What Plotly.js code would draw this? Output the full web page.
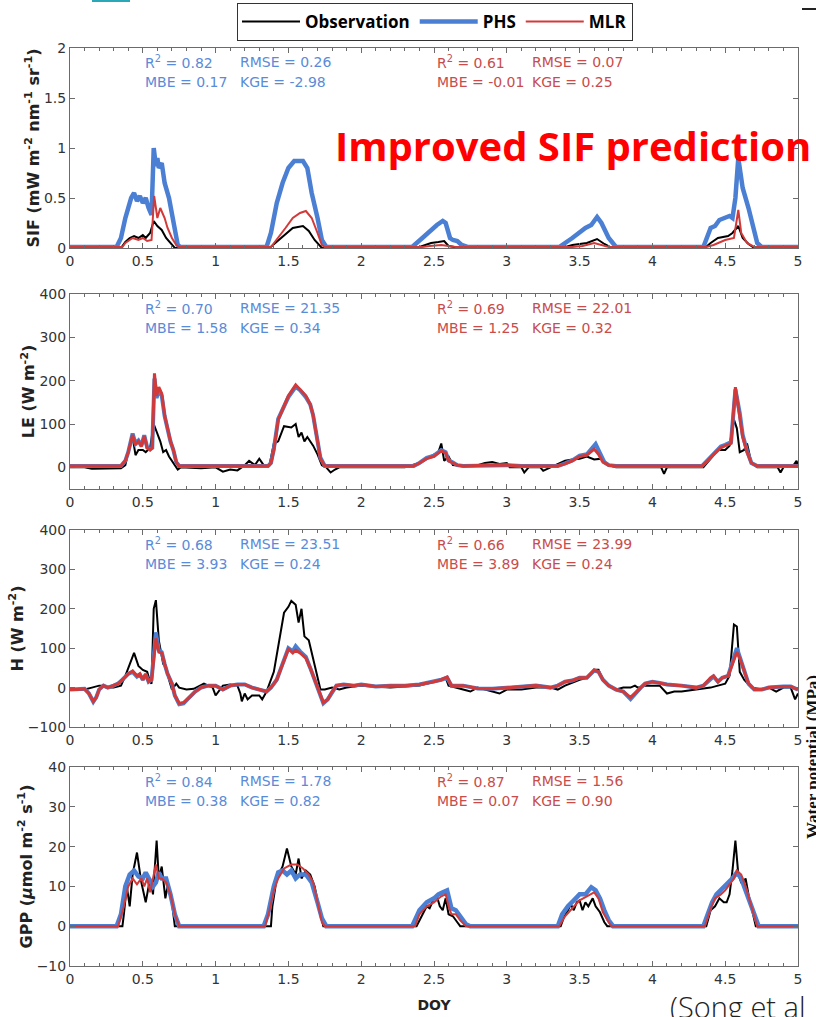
<!DOCTYPE html>
<html>
<head>
<meta charset="utf-8">
<script src="https://cdn.plot.ly/plotly-3.0.1.min.js"></script>
<style>
  html, body { margin: 0; padding: 0; background: #fff; overflow: hidden; }
  #chart { width: 816px; height: 1017px; }
</style>
</head>
<body>
<div id="chart"></div>
<script>
// ---- DOY axis ----
const doyTicks = [0, 0.5, 1, 1.5, 2, 2.5, 3, 3.5, 4, 4.5, 5];
const doyTickText = ['0', '0.5', '1', '1.5', '2', '2.5', '3', '3.5', '4', '4.5', '5'];

// ---- SIF (mW m-2 nm-1 sr-1): [DOY, value] ----
const sifObs = [[0,0],[0.35,0],[0.38,0.06],[0.41,0.1],[0.44,0.12],[0.47,0.1],[0.5,0.13],[0.52,0.1],[0.55,0.15],[0.575,0.27],[0.6,0.22],[0.63,0.18],[0.66,0.1],[0.69,0.05],[0.72,0],
  [1.37,0],[1.41,0.05],[1.47,0.12],[1.53,0.2],[1.6,0.22],[1.64,0.17],[1.68,0.08],[1.71,0.03],[1.73,0],
  [2.38,0],[2.42,0.02],[2.48,0.05],[2.53,0.06],[2.57,0.07],[2.6,0.02],[2.68,0],
  [3.38,0],[3.45,0.03],[3.55,0.05],[3.62,0.09],[3.67,0.04],[3.72,0],
  [4.36,0],[4.4,0.05],[4.45,0.1],[4.52,0.12],[4.55,0.15],[4.59,0.22],[4.62,0.1],[4.66,0.04],[4.7,0],[5,0]];
const sifPhs = [[0,0.01],[0.32,0.01],[0.35,0.1],[0.38,0.3],[0.42,0.5],[0.44,0.55],[0.46,0.47],[0.48,0.52],[0.5,0.45],[0.52,0.5],[0.54,0.4],[0.56,0.33],[0.575,1.0],[0.59,0.82],[0.6,0.9],[0.61,0.8],[0.63,0.85],[0.65,0.65],[0.68,0.5],[0.7,0.35],[0.72,0.15],[0.74,0.03],[0.76,0.01],
  [1.35,0.01],[1.38,0.15],[1.42,0.45],[1.46,0.65],[1.5,0.8],[1.54,0.87],[1.6,0.87],[1.63,0.8],[1.66,0.55],[1.7,0.3],[1.73,0.08],[1.76,0.01],
  [2.35,0.01],[2.42,0.1],[2.49,0.2],[2.52,0.23],[2.56,0.27],[2.58,0.25],[2.61,0.1],[2.63,0.08],[2.66,0.07],[2.69,0.03],[2.73,0.01],
  [3.36,0.01],[3.45,0.1],[3.54,0.2],[3.58,0.23],[3.62,0.31],[3.65,0.25],[3.7,0.1],[3.75,0.01],
  [4.35,0.01],[4.4,0.2],[4.43,0.22],[4.46,0.28],[4.5,0.3],[4.53,0.32],[4.55,0.3],[4.57,0.5],[4.59,0.9],[4.62,0.6],[4.66,0.4],[4.69,0.2],[4.72,0.05],[4.75,0.01],[5,0.01]];
const sifMlr = [[0,0.01],[0.36,0.01],[0.38,0.05],[0.43,0.1],[0.47,0.08],[0.5,0.1],[0.53,0.07],[0.56,0.08],[0.578,0.52],[0.6,0.3],[0.62,0.4],[0.65,0.3],[0.67,0.2],[0.7,0.1],[0.73,0.03],[0.75,0.01],
  [1.38,0.01],[1.43,0.1],[1.48,0.2],[1.53,0.3],[1.58,0.35],[1.62,0.37],[1.66,0.3],[1.7,0.15],[1.73,0.03],[1.75,0.01],
  [2.42,0.01],[2.47,0.02],[2.55,0.03],[2.6,0.02],[2.65,0.01],
  [3.45,0.01],[3.52,0.02],[3.6,0.05],[3.65,0.03],[3.7,0.01],
  [4.37,0.01],[4.42,0.03],[4.5,0.08],[4.56,0.1],[4.59,0.38],[4.61,0.15],[4.65,0.05],[4.7,0.01],[5,0.01]];

// ---- LE (W m-2) ----
const leObs = [[0,0],[0.1,0],[0.15,-3],[0.3,-3],[0.35,-2],[0.38,5],[0.4,35],[0.43,70],[0.45,28],[0.47,40],[0.5,40],[0.52,35],[0.55,45],[0.575,100],[0.6,80],[0.62,60],[0.64,35],[0.66,40],[0.68,25],[0.7,15],[0.72,5],[0.74,-5],[0.76,0],[0.9,-2],[1.0,0],[1.05,-10],[1.1,-5],[1.15,-7],[1.2,5],[1.23,15],[1.27,5],[1.3,20],[1.33,5],[1.37,5],
  [1.4,55],[1.43,60],[1.47,95],[1.52,92],[1.55,100],[1.57,70],[1.59,80],[1.61,60],[1.63,70],[1.67,50],[1.7,30],[1.73,5],[1.76,0],[1.79,-12],[1.82,-5],[1.85,0],
  [2.3,0],[2.4,10],[2.45,20],[2.5,30],[2.53,35],[2.55,55],[2.57,15],[2.6,25],[2.63,5],[2.7,3],[2.8,5],[2.85,10],[2.9,12],[2.95,8],[3.0,10],[3.02,0],[3.1,0],[3.12,-12],[3.15,0],[3.23,0],[3.25,-8],[3.3,0],
  [3.4,15],[3.45,18],[3.5,20],[3.55,25],[3.6,18],[3.65,20],[3.7,5],[3.75,0],[4.06,0],[4.08,-15],[4.1,0],
  [4.35,0],[4.4,20],[4.45,40],[4.5,40],[4.53,50],[4.56,110],[4.58,90],[4.6,35],[4.63,40],[4.65,55],[4.68,10],[4.72,0],[4.86,0],[4.88,-12],[4.9,0],[4.97,5],[4.99,15],[5,5]];
const lePhs = [[0,3],[0.35,3],[0.38,15],[0.4,35],[0.43,78],[0.45,55],[0.47,62],[0.49,50],[0.51,74],[0.53,46],[0.55,42],[0.565,45],[0.58,205],[0.595,160],[0.61,180],[0.63,165],[0.65,118],[0.67,88],[0.69,60],[0.71,40],[0.73,12],[0.75,3],
  [1.36,3],[1.38,10],[1.4,42],[1.43,112],[1.47,140],[1.5,162],[1.55,186],[1.58,178],[1.62,162],[1.65,145],[1.67,120],[1.7,62],[1.72,22],[1.75,3],
  [2.36,3],[2.4,10],[2.45,22],[2.5,27],[2.55,40],[2.58,35],[2.6,16],[2.63,11],[2.66,5],[2.7,3],[2.85,5],[3.0,5],[3.1,3],
  [3.35,3],[3.4,9],[3.45,16],[3.5,27],[3.55,30],[3.61,54],[3.64,32],[3.67,12],[3.7,5],[3.75,3],
  [4.34,3],[4.38,17],[4.42,33],[4.47,48],[4.5,52],[4.54,58],[4.57,180],[4.6,125],[4.62,75],[4.65,38],[4.68,10],[4.72,3],[5,3]];
const leMlr = [[0,3],[0.35,3],[0.38,15],[0.4,35],[0.43,75],[0.45,52],[0.47,60],[0.49,48],[0.51,72],[0.53,45],[0.55,40],[0.565,45],[0.58,217],[0.595,165],[0.61,185],[0.63,170],[0.65,120],[0.67,90],[0.69,60],[0.71,40],[0.73,12],[0.75,3],
  [1.36,3],[1.38,10],[1.4,40],[1.43,110],[1.47,140],[1.5,165],[1.55,190],[1.58,180],[1.62,165],[1.65,145],[1.67,120],[1.7,60],[1.72,20],[1.75,3],
  [2.36,3],[2.4,10],[2.45,20],[2.5,25],[2.55,38],[2.58,33],[2.6,15],[2.63,10],[2.66,5],[2.7,3],[2.85,5],[3.0,5],[3.1,3],
  [3.35,3],[3.4,8],[3.45,15],[3.5,25],[3.55,28],[3.6,42],[3.63,30],[3.66,12],[3.7,5],[3.75,3],
  [4.34,3],[4.38,15],[4.42,30],[4.47,45],[4.5,50],[4.54,55],[4.57,185],[4.6,120],[4.62,70],[4.65,35],[4.68,10],[4.72,3],[5,3]];

// ---- H (W m-2) ----
const hObs = [[0,-5],[0.1,-5],[0.15,0],[0.2,5],[0.22,5],[0.25,0],[0.3,0],[0.35,5],[0.38,30],[0.41,60],[0.44,88],[0.47,55],[0.5,45],[0.53,40],[0.55,15],[0.56,10],[0.575,200],[0.59,222],[0.61,120],[0.64,60],[0.66,50],[0.68,20],[0.7,-5],[0.72,5],[0.73,10],[0.75,0],[0.8,-5],[0.85,-3],[0.9,5],[0.92,10],[0.95,5],[0.98,0],[1.0,-20],[1.05,5],[1.1,8],[1.15,5],[1.17,-15],[1.18,-35],[1.2,-15],[1.22,-30],[1.25,-20],[1.3,-20],[1.32,-30],[1.35,-10],
  [1.4,40],[1.43,100],[1.47,190],[1.5,205],[1.52,220],[1.55,210],[1.57,165],[1.59,200],[1.61,130],[1.64,120],[1.66,90],[1.69,40],[1.72,-5],[1.75,-5],[1.8,0],[1.85,-5],[1.9,0],[2.0,5],[2.2,0],
  [2.4,5],[2.5,15],[2.58,25],[2.6,5],[2.7,-5],[2.75,-10],[2.8,0],[2.9,-10],[2.95,-15],[3.0,-5],[3.1,-5],[3.2,0],[3.3,0],[3.35,-5],[3.4,5],[3.5,20],[3.55,25],[3.6,45],[3.63,45],[3.66,20],[3.7,5],[3.75,-5],[3.8,0],[3.85,0],[3.88,5],[3.9,0],[3.95,5],[4.05,5],[4.1,-15],[4.15,-10],[4.2,-10],[4.3,-5],[4.4,0],
  [4.45,5],[4.5,10],[4.53,30],[4.56,160],[4.58,155],[4.6,40],[4.63,20],[4.68,0],[4.75,-5],[4.8,0],[4.85,-10],[4.9,0],[4.95,0],[4.98,-30],[5,-15]];
const hPhs = [[0,-5],[0.05,-5],[0.1,-3],[0.13,-15],[0.16,-36],[0.18,-25],[0.2,-5],[0.23,5],[0.26,0],[0.3,5],[0.33,10],[0.36,20],[0.4,35],[0.43,40],[0.46,28],[0.48,33],[0.5,20],[0.52,33],[0.54,15],[0.56,20],[0.575,85],[0.59,140],[0.61,95],[0.63,90],[0.65,60],[0.67,35],[0.7,10],[0.72,-20],[0.75,-42],[0.78,-40],[0.82,-25],[0.86,-10],[0.9,0],[0.95,5],[1.0,5],[1.05,-5],[1.1,5],[1.15,8],[1.2,8],[1.25,0],[1.3,-5],[1.35,-10],
  [1.38,0],[1.42,20],[1.45,50],[1.48,82],[1.5,100],[1.53,92],[1.55,105],[1.58,92],[1.62,78],[1.65,50],[1.68,20],[1.72,-20],[1.74,-40],[1.77,-30],[1.8,-10],[1.83,5],[1.88,8],[1.95,5],[2.0,8],[2.1,3],[2.2,5],[2.3,5],
  [2.4,8],[2.5,15],[2.55,20],[2.59,25],[2.62,5],[2.7,5],[2.8,-2],[2.9,-3],[3.0,0],[3.1,2],[3.2,5],[3.3,0],[3.35,5],[3.4,15],[3.45,18],[3.5,25],[3.55,25],[3.6,43],[3.63,40],[3.66,20],[3.7,5],[3.75,-5],[3.8,-10],[3.85,-29],[3.88,-15],[3.92,0],[3.95,10],[4.0,15],[4.05,12],[4.1,8],[4.2,5],[4.3,0],
  [4.35,5],[4.4,22],[4.42,28],[4.45,15],[4.48,25],[4.52,30],[4.55,62],[4.58,100],[4.6,78],[4.63,40],[4.66,10],[4.7,-5],[4.75,-5],[4.8,0],[4.85,2],[4.9,3],[4.95,3],[5,-5]];
const hMlr = [[0,-5],[0.05,-5],[0.1,-3],[0.13,-15],[0.16,-35],[0.18,-25],[0.2,-5],[0.23,5],[0.26,0],[0.3,5],[0.33,10],[0.36,20],[0.4,35],[0.43,42],[0.46,30],[0.48,35],[0.5,20],[0.52,35],[0.54,15],[0.56,20],[0.575,80],[0.59,125],[0.61,90],[0.63,88],[0.65,60],[0.67,35],[0.7,10],[0.72,-20],[0.75,-40],[0.78,-38],[0.82,-25],[0.86,-10],[0.9,0],[0.95,5],[1.0,5],[1.05,-5],[1.1,5],[1.15,8],[1.2,8],[1.25,0],[1.3,-5],[1.35,-10],
  [1.38,0],[1.42,20],[1.45,50],[1.48,80],[1.5,98],[1.53,88],[1.55,95],[1.58,88],[1.62,75],[1.65,50],[1.68,20],[1.72,-20],[1.74,-38],[1.77,-30],[1.8,-10],[1.83,5],[1.88,8],[1.95,5],[2.0,8],[2.1,3],[2.2,5],[2.3,5],
  [2.4,8],[2.5,15],[2.55,20],[2.59,27],[2.62,5],[2.7,5],[2.8,-2],[2.9,-3],[3.0,0],[3.1,2],[3.2,5],[3.3,0],[3.35,5],[3.4,15],[3.45,18],[3.5,25],[3.55,25],[3.6,45],[3.63,40],[3.66,20],[3.7,5],[3.75,-5],[3.8,-10],[3.85,-25],[3.88,-15],[3.92,0],[3.95,10],[4.0,15],[4.05,12],[4.1,8],[4.2,5],[4.3,0],
  [4.35,5],[4.4,25],[4.42,30],[4.45,15],[4.48,25],[4.52,30],[4.55,60],[4.58,90],[4.6,75],[4.63,40],[4.66,10],[4.7,-5],[4.75,-5],[4.8,0],[4.85,2],[4.9,3],[4.95,3],[5,-5]];

// ---- GPP (umol m-2 s-1) ----
const gppObs = [[0,0],[0.36,0],[0.37,3],[0.39,10],[0.41,5],[0.43,13],[0.46,18.5],[0.49,11],[0.52,6],[0.55,12],[0.57,8],[0.595,21.5],[0.61,12],[0.63,15],[0.655,7],[0.67,10],[0.7,6],[0.72,0],
  [1.38,0],[1.39,5],[1.42,12],[1.46,15],[1.49,19.5],[1.52,15],[1.55,13],[1.57,17],[1.59,12],[1.62,14],[1.65,13],[1.68,10],[1.72,3],[1.74,0],
  [2.38,0],[2.4,1.5],[2.42,3],[2.45,5],[2.47,4.5],[2.5,7],[2.52,7.5],[2.54,5],[2.56,4],[2.58,7],[2.6,3],[2.63,2.5],[2.66,1],[2.68,0],
  [3.37,0],[3.39,2],[3.42,4],[3.44,5.5],[3.46,4],[3.48,6],[3.5,6.5],[3.52,4],[3.54,6],[3.56,5],[3.59,7],[3.61,5],[3.64,3.5],[3.67,1],[3.69,0],
  [4.37,0],[4.4,4],[4.43,5],[4.46,7],[4.49,6],[4.51,6],[4.53,8],[4.55,14],[4.57,21.5],[4.59,13],[4.61,11],[4.63,11],[4.64,12],[4.66,8],[4.69,3],[4.71,0],[5,0]];
const gppPhs = [[0,0],[0.32,0],[0.35,3],[0.38,10],[0.41,13],[0.44,14],[0.47,12.5],[0.5,12],[0.52,13.5],[0.54,12],[0.57,10],[0.59,11],[0.61,13.5],[0.63,12],[0.66,12],[0.69,8],[0.72,3],[0.75,0],
  [1.33,0],[1.36,3],[1.4,10],[1.43,13.5],[1.46,14],[1.49,13],[1.52,14],[1.55,12],[1.58,13],[1.62,13],[1.66,11],[1.7,6],[1.73,2],[1.76,0],
  [2.35,0],[2.4,4],[2.45,6],[2.5,7],[2.53,8],[2.56,8.5],[2.59,9],[2.62,4.5],[2.65,4],[2.68,2.5],[2.72,0.5],[2.75,0],
  [3.35,0],[3.38,3],[3.42,5],[3.46,6.5],[3.5,8],[3.54,8],[3.58,9.8],[3.61,9],[3.64,7],[3.67,4],[3.7,1.5],[3.73,0],
  [4.35,0],[4.38,3],[4.41,6],[4.44,8],[4.47,9],[4.5,10],[4.52,11],[4.55,12],[4.58,13.5],[4.61,12],[4.64,9],[4.67,6],[4.7,2.5],[4.73,0],[5,0]];
const gppMlr = [[0,0],[0.33,0],[0.37,5],[0.4,10],[0.43,12],[0.46,10.5],[0.49,12],[0.51,10],[0.53,12],[0.55,8.5],[0.57,12],[0.59,15.5],[0.61,12],[0.63,12],[0.66,11],[0.69,8],[0.72,3],[0.75,0],
  [1.34,0],[1.37,4],[1.4,9],[1.43,12],[1.47,14.5],[1.52,15.5],[1.56,15.5],[1.6,14.5],[1.64,13],[1.67,11],[1.7,6],[1.73,1],[1.75,0],
  [2.37,0],[2.4,3],[2.45,5],[2.5,6],[2.55,7.5],[2.58,8],[2.6,5],[2.62,3],[2.65,3],[2.68,1.5],[2.72,0],
  [3.36,0],[3.4,2.5],[3.45,4.5],[3.5,6.5],[3.55,7.5],[3.6,8.5],[3.63,7],[3.66,3.5],[3.7,1],[3.72,0],
  [4.36,0],[4.4,4.5],[4.43,7],[4.47,8],[4.5,9],[4.53,10.5],[4.56,12],[4.58,14],[4.61,13],[4.64,10],[4.67,6],[4.7,2],[4.72,0],[5,0]];

// ---- goodness-of-fit statistics: [R2, RMSE, MBE, KGE] ----
const sifStatsPhs = ['0.82', '0.26', '0.17', '-2.98'];
const sifStatsMlr = ['0.61', '0.07', '-0.01', '0.25'];
const leStatsPhs = ['0.70', '21.35', '1.58', '0.34'];
const leStatsMlr = ['0.69', '22.01', '1.25', '0.32'];
const hStatsPhs = ['0.68', '23.51', '3.93', '0.24'];
const hStatsMlr = ['0.66', '23.99', '3.89', '0.24'];
const gppStatsPhs = ['0.84', '1.78', '0.38', '0.82'];
const gppStatsMlr = ['0.87', '1.56', '0.07', '0.90'];

// ---- y axes ----
const yTitles = [
  'SIF (mW m<sup>-2</sup> nm<sup>-1</sup> sr<sup>-1</sup>)',
  'LE (W m<sup>-2</sup>)',
  'H (W m<sup>-2</sup>)',
  'GPP (<i>μ</i>mol m<sup>-2</sup> s<sup>-1</sup>)'
];
const yRanges = [[0, 2], [-50, 400], [-100, 400], [-10, 40]];
const yTickSets = [[0, 0.5, 1, 1.5, 2], [0, 100, 200, 300, 400], [-100, 0, 100, 200, 300, 400], [-10, 0, 10, 20, 30, 40]];

// ---- styling ----
const W = 816, H = 1017;
const colObs = '#000000', colPhs = '#4a7fd3', colMlr = '#d23a3a';
const txtPhs = '#5a8bd8', txtMlr = '#c94c4a';
const axisCol = '#6b6b6b', tickTxt = '#333333';
const fontMain = 'DejaVu Sans, Liberation Sans, sans-serif';
const panelPx = [[48, 248], [294, 489], [530, 727], [767, 966]];  // top, bottom (px)
const plotLeftPx = 70, plotRightPx = 798;
const fx = p => p / W;
const fy = p => 1 - p / H;

const panels = [
  { obs: sifObs, phs: sifPhs, mlr: sifMlr, sp: sifStatsPhs, sm: sifStatsMlr, wObs: 2, wPhs: 4.5, wMlr: 2 },
  { obs: leObs, phs: lePhs, mlr: leMlr, sp: leStatsPhs, sm: leStatsMlr, wObs: 2, wPhs: 4, wMlr: 3 },
  { obs: hObs, phs: hPhs, mlr: hMlr, sp: hStatsPhs, sm: hStatsMlr, wObs: 2, wPhs: 4, wMlr: 3 },
  { obs: gppObs, phs: gppPhs, mlr: gppMlr, sp: gppStatsPhs, sm: gppStatsMlr, wObs: 2, wPhs: 4.5, wMlr: 2 }
];

const traces = [];
const layout = {
  width: W, height: H,
  margin: { l: 0, r: 0, t: 0, b: 0 },
  paper_bgcolor: '#ffffff', plot_bgcolor: '#ffffff',
  font: { family: fontMain, size: 14, color: tickTxt },
  showlegend: true,
  legend: {
    orientation: 'h', x: fx(237), y: fy(3), xanchor: 'left', yanchor: 'top',
    bordercolor: '#333333', borderwidth: 1, bgcolor: '#ffffff',
    font: { family: 'Open Sans, sans-serif', size: 17, weight: 700, color: '#000000' },
    itemwidth: 58
  },
  annotations: [],
  shapes: []
};

panels.forEach((p, i) => {
  const s = i === 0 ? '' : String(i + 1);
  const xa = 'x' + s, ya = 'y' + s;
  const series = [
    { pts: p.obs, name: 'Observation', color: colObs, width: p.wObs },
    { pts: p.phs, name: 'PHS', color: colPhs, width: p.wPhs },
    { pts: p.mlr, name: 'MLR', color: colMlr, width: p.wMlr }
  ];
  series.forEach(sr => {
    traces.push({
      type: 'scatter', mode: 'lines',
      x: sr.pts.map(d => d[0]), y: sr.pts.map(d => d[1]),
      xaxis: xa, yaxis: ya,
      name: sr.name, legendgroup: sr.name, showlegend: i === 0,
      line: { color: sr.color, width: sr.width, shape: 'linear' },
      hoverinfo: 'skip'
    });
  });

  const [top, bot] = panelPx[i];
  const xaxis = {
    domain: [fx(plotLeftPx), fx(plotRightPx)], anchor: ya,
    range: [0, 5], tickvals: doyTicks, ticktext: doyTickText,
    ticks: 'inside', ticklen: 5, tickcolor: axisCol, tickwidth: 1,
    minor: { dtick: 0.1, tick0: 0, ticks: 'inside', ticklen: 3, tickcolor: axisCol, tickwidth: 1 },
    showline: true, linecolor: axisCol, linewidth: 1, mirror: 'allticks',
    showgrid: false, zeroline: false,
    tickfont: { family: fontMain, size: 14, color: tickTxt }
  };
  if (i === 3) {
    xaxis.title = { text: '<b>DOY</b>', font: { family: fontMain, size: 14, color: '#222' }, standoff: 14 };
  }
  layout['xaxis' + s] = xaxis;
  layout['yaxis' + s] = {
    domain: [fy(bot), fy(top)], anchor: xa,
    range: yRanges[i], tickvals: yTickSets[i],
    ticks: 'inside', ticklen: 5, tickcolor: axisCol, tickwidth: 1,
    showline: true, linecolor: axisCol, linewidth: 1, mirror: 'ticks',
    showgrid: false, zeroline: false,
    tickfont: { family: fontMain, size: 14, color: tickTxt },
    title: { text: '<b>' + yTitles[i] + '</b>', font: { family: fontMain, size: 16, color: '#222' }, standoff: 0 }
  };

  // statistics text rows
  const row1 = top + 14, row2 = top + 34;
  const statCols = [
    { x: 143, y: row1, t: 'R<sup>2</sup> = ' + p.sp[0], c: txtPhs },
    { x: 238, y: row1, t: 'RMSE = ' + p.sp[1], c: txtPhs },
    { x: 143, y: row2, t: 'MBE = ' + p.sp[2], c: txtPhs },
    { x: 238, y: row2, t: 'KGE = ' + p.sp[3], c: txtPhs },
    { x: 435, y: row1, t: 'R<sup>2</sup> = ' + p.sm[0], c: txtMlr },
    { x: 530, y: row1, t: 'RMSE = ' + p.sm[1], c: txtMlr },
    { x: 435, y: row2, t: 'MBE = ' + p.sm[2], c: txtMlr },
    { x: 530, y: row2, t: 'KGE = ' + p.sm[3], c: txtMlr }
  ];
  statCols.forEach(a => {
    layout.annotations.push({
      xref: 'paper', yref: 'paper', x: fx(a.x), y: fy(a.y),
      xanchor: 'left', yanchor: 'middle', showarrow: false,
      text: a.t, font: { family: fontMain, size: 14, color: a.c }
    });
  });
});

// headline over the SIF panel
layout.annotations.push({
  xref: 'paper', yref: 'paper', x: fx(333), y: fy(146),
  xanchor: 'left', yanchor: 'middle', showarrow: false,
  text: '<b>Improved SIF prediction</b>',
  font: { family: 'Open Sans, sans-serif', size: 40, color: '#ff0000' }
});
// citation at the lower right
layout.annotations.push({
  xref: 'paper', yref: 'paper', x: fx(668), y: fy(1006),
  xanchor: 'left', yanchor: 'middle', showarrow: false,
  text: '(Song et al',
  font: { family: 'Open Sans, sans-serif', size: 29, weight: 300, color: '#222222' }
});
// neighbouring axis label at the right edge
layout.annotations.push({
  xref: 'paper', yref: 'paper', x: fx(812), y: fy(757),
  xanchor: 'center', yanchor: 'middle', showarrow: false, textangle: -90,
  text: '<b>Water potential (MPa)</b>',
  font: { family: 'Liberation Serif, serif', size: 17, color: '#111111' }
});
// small marks at the page top
layout.shapes.push({ type: 'rect', xref: 'paper', yref: 'paper', x0: fx(92), x1: fx(130), y0: fy(2), y1: fy(0), fillcolor: '#2aa8b8', line: { width: 0 } });
layout.shapes.push({ type: 'line', xref: 'paper', yref: 'paper', x0: fx(802), x1: fx(816), y0: fy(9), y1: fy(9), line: { color: '#222', width: 2 } });

Plotly.newPlot('chart', traces, layout, { displayModeBar: false, staticPlot: true });
</script>
</body>
</html>
